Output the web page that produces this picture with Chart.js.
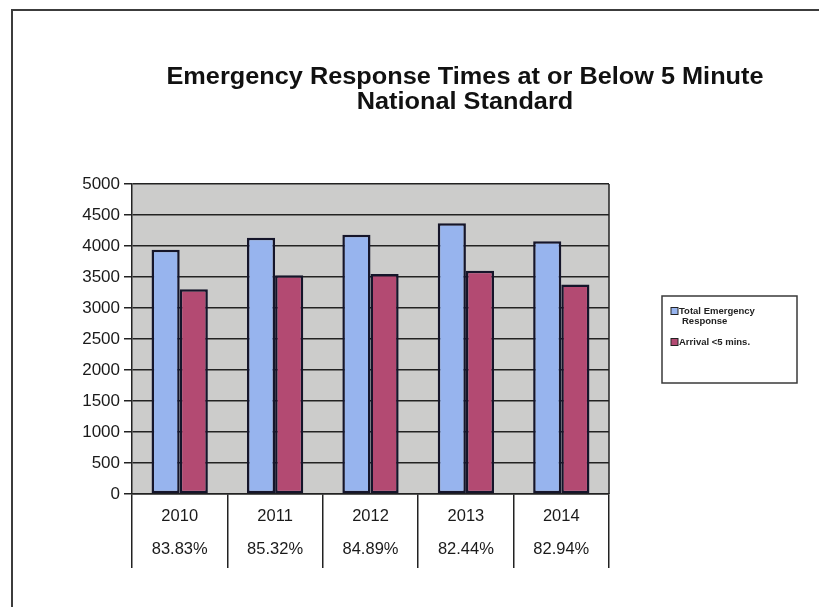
<!DOCTYPE html>
<html>
<head>
<meta charset="utf-8">
<script src="https://cdn.jsdelivr.net/npm/chart.js@4"></script>
<style>
  html, body { margin: 0; padding: 0; background: #fff; }
  #wrap { position: relative; width: 819px; height: 607px; overflow: hidden; }
  #frame { position: absolute; left: 11px; top: 9px; width: 900px; height: 700px;
           border-top: 2px solid #3c3c3c; border-left: 2px solid #3c3c3c; }
  #c { position: absolute; left: 0; top: 0; }
</style>
</head>
<body>
<div id="wrap">
  <div id="frame"></div>
  <canvas id="c" width="819" height="607"></canvas>
</div>
<script>
// Yearly emergency responses and arrivals within 5 minutes
const years = ['2010', '2011', '2012', '2013', '2014'];
const onTimeShare = ['83.83%', '85.32%', '84.89%', '82.44%', '82.94%'];
const totalResponses = [3940, 4135, 4180, 4365, 4075];
const arrivalsUnder5 = [3303, 3528, 3548, 3599, 3380];

const titleLines = ['Emergency Response Times at or Below 5 Minute', 'National Standard'];
const seriesNames = ['Total Emergency Response', 'Arrival <5 mins.'];
const legendLines = [['Total Emergency', 'Response'], ['Arrival <5 mins.']];

const yMin = 0, yMax = 5000, yStep = 500;

const FONT = "'Liberation Sans', Arial, sans-serif";
const INK = '#1a1a1a';

// Gray plot background, right edge of plot, title and boxed legend
const decorations = {
  id: 'decorations',
  beforeDraw(chart) {
    const { ctx, chartArea: a } = chart;
    ctx.save();
    ctx.fillStyle = '#cccccb';
    ctx.fillRect(a.left, a.top, a.right - a.left, a.bottom - a.top);
    ctx.restore();
  },
  afterDraw(chart) {
    const { ctx, chartArea: a } = chart;
    ctx.save();
    // right edge of plot area
    ctx.strokeStyle = '#222';
    ctx.lineWidth = 1.5;
    ctx.beginPath();
    ctx.moveTo(a.right, a.top);
    ctx.lineTo(a.right, a.bottom);
    ctx.stroke();

    // title
    ctx.fillStyle = '#111';
    ctx.font = 'bold 23px ' + FONT;
    ctx.textAlign = 'center';
    ctx.textBaseline = 'alphabetic';
    const cx = 465;
    titleLines.forEach((line, i) => {
      ctx.save();
      ctx.translate(cx, 84 + i * 25);
      ctx.scale(1.1, 1);
      ctx.fillText(line, 0, 0);
      ctx.restore();
    });

    // legend box
    const lx = 662, ly = 296, lw = 135, lh = 87;
    ctx.fillStyle = '#fff';
    ctx.fillRect(lx, ly, lw, lh);
    ctx.strokeStyle = '#3a3a3a';
    ctx.lineWidth = 1.5;
    ctx.strokeRect(lx, ly, lw, lh);

    ctx.font = 'bold 9.5px ' + FONT;
    ctx.textAlign = 'left';
    ctx.textBaseline = 'middle';
    const rows = [311, 342];
    chart.data.datasets.forEach((ds, i) => {
      const y = rows[i];
      ctx.fillStyle = ds.backgroundColor;
      ctx.fillRect(lx + 9, y - 3.5, 7, 7);
      ctx.strokeStyle = '#222';
      ctx.lineWidth = 1;
      ctx.strokeRect(lx + 9, y - 3.5, 7, 7);
      ctx.fillStyle = '#222';
      legendLines[i].forEach((t, j) => {
        ctx.fillText(t, lx + 17 + (j > 0 ? 3 : 0), y + j * 10);
      });
    });
    ctx.restore();
  }
};

const xLabels = years.map((y, i) => [y, onTimeShare[i]]);

new Chart(document.getElementById('c'), {
  type: 'bar',
  data: {
    labels: xLabels,
    datasets: [
      {
        label: seriesNames[0],
        data: totalResponses,
        backgroundColor: '#97b4ee',
        borderColor: '#15152a',
        borderWidth: 2.5,
        borderSkipped: false,
        categoryPercentage: 0.59,
        barPercentage: 1.0
      },
      {
        label: seriesNames[1],
        data: arrivalsUnder5,
        backgroundColor: '#b34a72',
        borderColor: '#15152a',
        borderWidth: 2.5,
        borderSkipped: false,
        categoryPercentage: 0.59,
        barPercentage: 1.0
      }
    ]
  },
  options: {
    responsive: false,
    animation: false,
    devicePixelRatio: 1,
    layout: { padding: { left: 20, right: 210, top: 184, bottom: 33 } },
    plugins: {
      legend: { display: false },
      title: { display: false },
      tooltip: { enabled: false }
    },
    scales: {
      x: {
        grid: {
          display: true,
          offset: true,
          drawOnChartArea: false,
          drawTicks: true,
          tickLength: 74,
          color: '#222',
          lineWidth: 1.5
        },
        border: { display: true, color: '#222', width: 1.5 },
        ticks: {
          color: INK,
          padding: -68,
          maxRotation: 0,
          autoSkip: false,
          font: { family: FONT, size: 16.5, lineHeight: 2.0 }
        },
        afterFit(scale) { scale.height = 80; }
      },
      y: {
        min: yMin,
        max: yMax,
        grid: {
          color: '#222',
          lineWidth: 1.5,
          tickLength: 8
        },
        border: { display: true, color: '#222', width: 1.5 },
        ticks: {
          stepSize: yStep,
          color: INK,
          padding: 4,
          font: { family: FONT, size: 17 },
          callback: (v) => String(v)
        },
        afterFit(scale) { scale.width = 112; }
      }
    }
  },
  plugins: [decorations]
});
</script>
</body>
</html>
